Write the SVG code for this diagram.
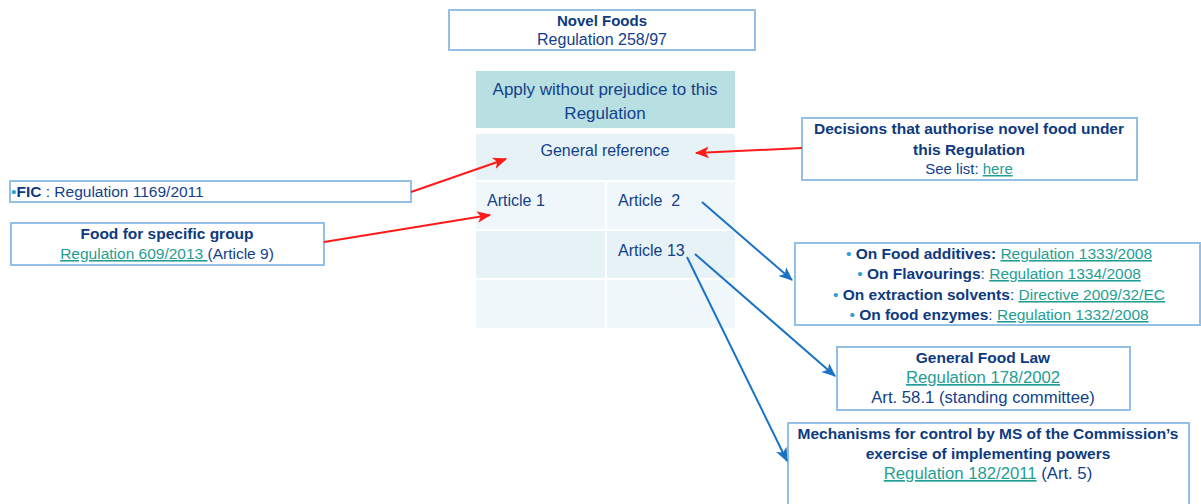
<svg xmlns="http://www.w3.org/2000/svg" width="1201" height="504" viewBox="0 0 1201 504">
<style>
text{font-family:"Liberation Sans",Arial,sans-serif;fill:#123f8c;}
.c{text-anchor:middle;}
.b{font-weight:bold;fill:#0d3a80;}
.lk{fill:#1f9e94;text-decoration:underline;}
.box{fill:#fff;stroke:#94c0e6;stroke-width:2;}
.red{stroke:#ff1a1a;stroke-width:2;fill:none;}
.blue{stroke:#1a72c4;stroke-width:2;fill:none;}
</style>
<defs>
<marker id="ar" viewBox="0 0 12 10" refX="11" refY="5" markerWidth="7" markerHeight="6" orient="auto" markerUnits="strokeWidth">
<path d="M0,0 L12,5 L0,10 L3,5 z" fill="#ff1a1a"/>
</marker>
<marker id="ab" viewBox="0 0 12 10" refX="11" refY="5" markerWidth="7" markerHeight="6" orient="auto" markerUnits="strokeWidth">
<path d="M0,0 L12,5 L0,10 L3,5 z" fill="#1a72c4"/>
</marker>
</defs>

<g id="novel-foods">
<rect class="box" x="449" y="10" width="306" height="40"/>
<text class="c b" x="602" y="26" font-size="15">Novel Foods</text>
<text class="c" x="602" y="45" font-size="16">Regulation 258/97</text>
</g>

<g id="table">
<rect x="476" y="71" width="259" height="57" fill="#b8dfe2"/>
<rect x="476" y="134" width="259" height="46" fill="#e6f2f5"/>
<rect x="476" y="182" width="129" height="47" fill="#f0f7fa"/>
<rect x="607" y="182" width="128" height="47" fill="#f0f7fa"/>
<rect x="476" y="231" width="129" height="47" fill="#e6f2f5"/>
<rect x="607" y="231" width="128" height="47" fill="#e6f2f5"/>
<rect x="476" y="280" width="129" height="48" fill="#f0f7fa"/>
<rect x="607" y="280" width="128" height="48" fill="#f0f7fa"/>
<text class="c" x="605" y="95" font-size="17">Apply without prejudice to this</text>
<text class="c" x="605" y="119" font-size="17">Regulation</text>
<text class="c" x="605" y="156" font-size="16">General reference</text>
<text x="487" y="206" font-size="16">Article 1</text>
<text x="618" y="206" font-size="16" xml:space="preserve">Article  2</text>
<text x="618" y="256" font-size="16">Article 13</text>
</g>

<g id="fic">
<rect class="box" x="10" y="181" width="401" height="21"/>
<text x="11" y="197" font-size="15.5"><tspan fill="#2b9fd6">•</tspan><tspan class="b">FIC</tspan> : Regulation 1169/2011</text>
</g>

<g id="food-specific">
<rect class="box" x="11" y="223" width="313" height="42"/>
<text class="c b" x="167" y="239" font-size="15.5">Food for specific group</text>
<text class="c" x="167" y="259" font-size="15.5"><tspan class="lk">Regulation 609/2013 </tspan>(Article 9)</text>
</g>

<g id="decisions">
<rect class="box" x="802" y="118" width="335" height="62"/>
<text class="c b" x="969" y="134" font-size="15.5">Decisions that authorise novel food under</text>
<text class="c b" x="969" y="155" font-size="15.5">this Regulation</text>
<text class="c" x="969" y="174" font-size="15">See list: <tspan class="lk">here</tspan></text>
</g>

<g id="additives">
<rect class="box" x="795" y="243" width="405" height="82"/>
<text class="c" x="999" y="259" font-size="15.5"><tspan fill="#2b9fd6">•</tspan> <tspan class="b">On Food additives:</tspan> <tspan class="lk">Regulation 1333/2008</tspan></text>
<text class="c" x="999" y="279" font-size="15.5"><tspan fill="#2b9fd6">•</tspan> <tspan class="b">On Flavourings</tspan>: <tspan class="lk">Regulation 1334/2008</tspan></text>
<text class="c" x="999" y="300" font-size="15.5"><tspan fill="#2b9fd6">•</tspan> <tspan class="b">On extraction solvents</tspan>: <tspan class="lk">Directive 2009/32/EC</tspan></text>
<text class="c" x="999" y="320" font-size="15.5"><tspan fill="#2b9fd6">•</tspan> <tspan class="b">On food enzymes</tspan>: <tspan class="lk">Regulation 1332/2008</tspan></text>
</g>

<g id="general-food-law">
<rect class="box" x="837" y="347" width="293" height="63"/>
<text class="c b" x="983" y="363" font-size="15.5">General Food Law</text>
<text class="c" x="983" y="383" font-size="16.7"><tspan class="lk">Regulation 178/2002</tspan></text>
<text class="c" x="983" y="403" font-size="16.7">Art. 58.1 (standing committee)</text>
</g>

<g id="mechanisms">
<rect class="box" x="788" y="423" width="401" height="90"/>
<text class="c b" x="988" y="439" font-size="15.5">Mechanisms for control by MS of the Commission’s</text>
<text class="c b" x="988" y="459" font-size="15.5">exercise of implementing powers</text>
<text class="c" x="988" y="479" font-size="16.7"><tspan class="lk">Regulation 182/2011</tspan> (Art. 5)</text>
</g>

<g id="connectors">
<line class="red" x1="411" y1="192" x2="506" y2="159" marker-end="url(#ar)"/>
<line class="red" x1="324" y1="242" x2="490" y2="215" marker-end="url(#ar)"/>
<line class="red" x1="802" y1="148" x2="696" y2="153" marker-end="url(#ar)"/>
<line class="blue" x1="702" y1="202" x2="792" y2="280" marker-end="url(#ab)"/>
<line class="blue" x1="695" y1="254" x2="835" y2="376" marker-end="url(#ab)"/>
<line class="blue" x1="687" y1="257" x2="787" y2="461" marker-end="url(#ab)"/>
</g>
</svg>
